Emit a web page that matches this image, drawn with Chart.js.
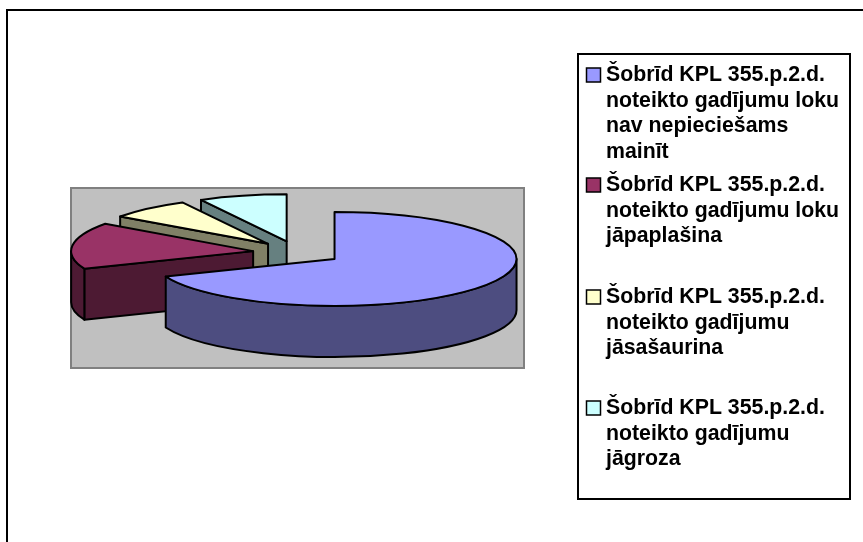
<!DOCTYPE html>
<html>
<head>
<meta charset="utf-8">
<style>
html,body{margin:0;padding:0;background:#fff;overflow:hidden}
#wrap{width:863px;height:542px;position:relative}
canvas{display:block}
</style>
<script src="https://cdn.jsdelivr.net/npm/chart.js@4/dist/chart.umd.min.js"></script>
</head>
<body>
<div id="wrap"><canvas id="c" width="863" height="542"></canvas></div>
<script>
const categories = [
  ["Šobrīd KPL 355.p.2.d.", "noteikto gadījumu loku", "nav nepieciešams", "mainīt"],
  ["Šobrīd KPL 355.p.2.d.", "noteikto gadījumu loku", "jāpaplašina"],
  ["Šobrīd KPL 355.p.2.d.", "noteikto gadījumu", "jāsašaurina"],
  ["Šobrīd KPL 355.p.2.d.", "noteikto gadījumu", "jāgroza"]
];
const shares = [68.9, 16, 7.3, 7.8];
const topColors = ["#9999FF", "#993366", "#FFFFCC", "#CCFFFF"];
const sideColors = ["#4D4D80", "#4D1A33", "#808066", "#668080"];

const pieRadius = 182, tilt = 0.258, depth = 51, explode = 0.2455;
const plotPad = {left: 71, top: 188, right: 339, bottom: 174};
const legendBox = {x: 578, y: 54, w: 272, h: 445};
const legendSwatchX = 586, legendSwatchSize = 14, legendTextX = 606, legendLine = 25.5;
const legendFirstBaselines = [81, 191, 303, 414];
const legendFont = "bold 21.3px 'Liberation Sans', Arial, sans-serif";

function facePath(ctx, s) {
  ctx.beginPath();
  ctx.moveTo(s.cx, s.cy);
  ctx.ellipse(s.cx, s.cy, s.rx, s.ry, 0, s.a, s.b);
  ctx.closePath();
}
function drawSlice(ctx, s) {
  ctx.strokeStyle = "#000";
  ctx.lineWidth = 2;
  ctx.lineJoin = "round";
  // radial cut faces that look toward the viewer
  const mid = (s.a + s.b) / 2;
  const mx = s.cx + s.rx * Math.cos(mid), my = s.cy + s.ry * Math.sin(mid);
  [s.a, s.b].forEach(t => {
    const px = s.cx + s.rx * Math.cos(t), py = s.cy + s.ry * Math.sin(t);
    if (Math.abs(px - s.cx) < 1) return;
    const lineY = s.cy + (py - s.cy) * (mx - s.cx) / (px - s.cx);
    if (my < lineY) {
      ctx.beginPath();
      ctx.moveTo(s.cx, s.cy);
      ctx.lineTo(px, py);
      ctx.lineTo(px, py + depth);
      ctx.lineTo(s.cx, s.cy + depth);
      ctx.closePath();
      ctx.fillStyle = s.side;
      ctx.fill();
      ctx.stroke();
    }
  });
  // outer rim, front half only
  const lo = Math.max(s.a, 0), hi = Math.min(s.b, Math.PI);
  if (hi > lo) {
    ctx.beginPath();
    ctx.ellipse(s.cx, s.cy, s.rx, s.ry, 0, lo, hi);
    ctx.ellipse(s.cx, s.cy + depth, s.rx, s.ry, 0, hi, lo, true);
    ctx.closePath();
    ctx.fillStyle = s.side;
    ctx.fill();
    ctx.stroke();
  }
  facePath(ctx, s);
  ctx.fillStyle = s.top;
  ctx.fill();
  ctx.stroke();
}

const extrudedPie = {
  id: "extrudedPie",
  beforeDraw(chart) {
    const ctx = chart.ctx, a = chart.chartArea;
    ctx.save();
    ctx.fillStyle = "#fff";
    ctx.fillRect(0, 0, chart.width, chart.height);
    ctx.strokeStyle = "#000";
    ctx.lineWidth = 2;
    ctx.beginPath();
    ctx.moveTo(7, chart.height + 2);
    ctx.lineTo(7, 10);
    ctx.lineTo(chart.width + 2, 10);
    ctx.stroke();
    ctx.fillStyle = "#C0C0C0";
    ctx.fillRect(a.left, a.top, a.right - a.left, a.bottom - a.top);
    ctx.strokeStyle = "#808080";
    ctx.strokeRect(a.left, a.top, a.right - a.left, a.bottom - a.top);
    ctx.restore();
  },
  beforeDatasetDraw(chart, args) {
    const ctx = chart.ctx;
    const slices = args.meta.data.map((arc, i) => {
      const p = arc.getProps(["x", "y", "startAngle", "endAngle", "outerRadius"], true);
      const mid = (p.startAngle + p.endAngle) / 2;
      const rx = p.outerRadius, ry = rx * tilt;
      return {
        cx: p.x + Math.cos(mid) * rx * explode,
        cy: p.y - depth / 2 + Math.sin(mid) * ry * explode,
        rx, ry, a: p.startAngle, b: p.endAngle,
        top: topColors[i], side: sideColors[i]
      };
    });
    slices.sort((u, v) => u.cy - v.cy);
    ctx.save();
    slices.forEach(s => drawSlice(ctx, s));
    ctx.restore();
    return false;
  },
  afterDraw(chart) {
    const ctx = chart.ctx;
    ctx.save();
    ctx.fillStyle = "#fff";
    ctx.strokeStyle = "#000";
    ctx.lineWidth = 2;
    ctx.fillRect(legendBox.x, legendBox.y, legendBox.w, legendBox.h);
    ctx.strokeRect(legendBox.x, legendBox.y, legendBox.w, legendBox.h);
    ctx.font = legendFont;
    ctx.textBaseline = "alphabetic";
    categories.forEach((lines, i) => {
      const base = legendFirstBaselines[i];
      ctx.fillStyle = topColors[i];
      ctx.lineWidth = 1.5;
      ctx.fillRect(legendSwatchX + 0.5, base - 13, legendSwatchSize, legendSwatchSize);
      ctx.strokeRect(legendSwatchX + 0.5, base - 13, legendSwatchSize, legendSwatchSize);
      ctx.fillStyle = "#000";
      lines.forEach((t, j) => ctx.fillText(t, legendTextX, base + j * legendLine));
    });
    ctx.restore();
  }
};

new Chart(document.getElementById("c"), {
  type: "pie",
  data: {
    labels: categories.map(l => l.join(" ")),
    datasets: [{data: shares, backgroundColor: topColors, borderColor: "#000", borderWidth: 2}]
  },
  options: {
    responsive: false,
    animation: false,
    radius: pieRadius,
    layout: {padding: plotPad},
    plugins: {legend: {display: false}, title: {display: false}, tooltip: {enabled: false}}
  },
  plugins: [extrudedPie]
});
</script>
</body>
</html>
